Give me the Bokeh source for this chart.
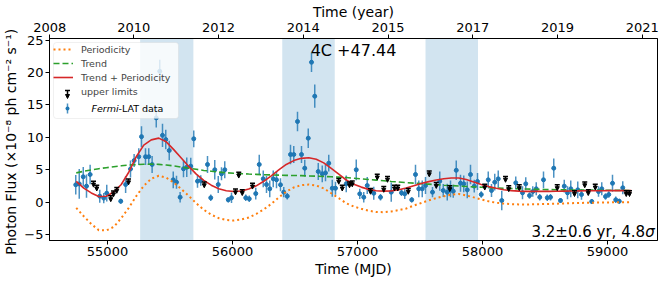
from bokeh.plotting import figure
from bokeh.models import (Range1d, LinearAxis, FixedTicker, BoxAnnotation, Label,
                          Legend, LegendItem, Arrow, TeeHead, NormalHead,
                          ColumnDataSource)
from bokeh.embed import file_html
from bokeh.resources import INLINE

FONT = "DejaVu Sans"

# ---------------- data ----------------
mjd = [54746, 54774, 54806, 54832, 54861, 54938, 54970, 54994, 55106, 55145,
       55184, 55213, 55250, 55272, 55304, 55330, 55357, 55390, 55418, 55440,
       55466, 55494, 55526, 55552, 55581, 55608, 55634, 55666, 55690, 55720,
       55746, 55800, 55826, 55858, 55886, 55912, 55938, 55966, 55992, 56106,
       56134, 56186, 56214, 56246, 56272, 56298, 56326, 56352, 56384, 56410,
       56438, 56464, 56490, 56520, 56552, 56578, 56606, 56632, 56658, 56686,
       56718, 56744, 56770, 56798, 56824, 56910, 56990, 57018, 57050, 57078,
       57130, 57184, 57270, 57352, 57378, 57434, 57464, 57490, 57518, 57544,
       57600, 57658, 57686, 57718, 57744, 57766, 57790, 57824, 57850, 57878,
       57904, 57934, 57960, 57990, 58046, 58072, 58098, 58126, 58154, 58266,
       58320, 58346, 58376, 58402, 58430, 58458, 58488, 58518, 58544, 58570,
       58624, 58654, 58680, 58706, 58762, 58792, 58874, 58928, 58954, 58984,
       59010, 59040, 59066, 59094, 59122]
flux = [2.66, 2.8, 3.9, 2.45, 4.25, 0.9, 0.6, 1.36, 0.12, 2.7,
        5.1, 6.4, 7.0, 10.1, 7.0, 7.0, 5.8, 13.0, 20.2, 10.3,
        9.66, 7.96, 3.43, 3.06, 0.74, 5.13, 5.38, 5.54, 9.77, 3.22,
        3.32, 5.8, 0.65, 4.98, 2.7, 4.36, 4.98, 0.34, 0.65, 0.65,
        0.49, 1.3, 5.8, 3.58, 2.7, 2.04, 3.58, 3.43, 2.66, 1.52,
        0.9, 7.34, 7.34, 12.44, 7.34, 5.23, 9.86, 21.6, 16.35, 4.71,
        4.36, 4.5, 6.0, 2.13, 2.13, 2.81, 4.98, 1.26, 0.74, 2.55,
        1.36, 0.74, 1.52, 1.42, 1.26, 0.34, 4.25, 2.04, 2.04, 2.55,
        1.52, 3.22, 1.78, 1.52, 2.04, 1.67, 4.9, 2.9, 2.81, 1.88,
        4.25, 2.45, 3.17, 1.16, 3.43, 1.78, 3.06, 3.58, 0.23, 2.96,
        1.42, 2.81, 1.0, 1.62, 2.04, 0.74, 3.43, 0.65, 0.74, 5.23,
        0.23, 2.45, 1.42, 2.04, 1.88, 1.16, 0.08, 1.62, 2.04, 0.85,
        1.16, 2.9, 0.34, 0.12, 2.2]
flux_err = [1.5, 2.3, 1.5, 1.8, 1.5, 1.0, 0.8, 1.3, 0.4, 1.3,
            1.3, 1.0, 1.3, 1.6, 1.3, 1.3, 1.3, 1.5, 1.8, 1.8,
            1.5, 1.5, 1.3, 1.0, 0.8, 1.3, 1.5, 1.3, 1.3, 1.0,
            0.8, 1.3, 0.5, 1.5, 1.3, 1.0, 1.3, 0.4, 0.8, 0.5,
            0.5, 0.9, 1.5, 1.3, 1.3, 1.3, 1.3, 1.3, 1.0, 0.8,
            0.5, 1.5, 1.3, 1.5, 1.3, 1.3, 1.5, 1.5, 1.8, 1.3,
            1.3, 1.3, 1.3, 1.3, 1.0, 1.3, 1.6, 0.8, 0.8, 1.3,
            1.0, 0.5, 1.5, 0.5, 0.8, 0.4, 1.5, 1.3, 1.3, 1.3,
            0.8, 1.5, 1.0, 1.3, 1.3, 1.0, 1.5, 1.3, 1.3, 1.3,
            1.5, 1.0, 1.3, 0.5, 1.3, 1.0, 1.3, 1.3, 1.5, 1.0,
            1.0, 1.0, 0.5, 0.8, 1.0, 0.5, 1.3, 0.5, 0.5, 1.5,
            0.4, 1.0, 1.0, 1.3, 1.3, 0.8, 0.4, 0.8, 1.0, 0.5,
            0.5, 1.3, 0.5, 0.4, 1.0]

ul_mjd = [54888, 54914, 55026, 55048, 55074, 55168, 55774, 56024, 56050, 56078,
          56160, 56850, 56878, 56936, 56958, 57104, 57158, 57210, 57240, 57296,
          57322, 57406, 57574, 57630, 57738, 58018, 58184, 58210, 58294, 58598,
          58736, 58818, 58846, 58902, 59150, 59176]
ul_flux = [3.2, 2.6, 0.95, 1.7, 2.25, 3.55, 3.1, 2.0, 4.6, 1.9,
           2.9, 3.65, 2.6, 3.1, 3.25, 2.1, 4.3, 2.4, 3.95, 2.6,
           2.6, 2.1, 4.8, 3.0, 2.5, 2.75, 3.95, 2.5, 2.65, 2.65,
           1.75, 3.1, 1.9, 2.75, 1.75, 1.75]
ul_len = 0.9

curve_mjd = [54750, 54810, 54870, 54930, 54990, 55050, 55110, 55170, 55230, 55290,
             55350, 55410, 55470, 55530, 55590, 55650, 55710, 55770, 55830, 55890,
             55950, 56010, 56070, 56130, 56190, 56250, 56310, 56370, 56430, 56490,
             56550, 56610, 56670, 56730, 56790, 56850, 56910, 56970, 57030, 57090,
             57150, 57210, 57270, 57330, 57390, 57450, 57510, 57570, 57630, 57690,
             57750, 57810, 57870, 57930, 57990, 58050, 58110, 58170, 58230, 58290,
             58350, 58410, 58470, 58530, 58590, 58650, 58710, 58770, 58830, 58890,
             58950, 59010, 59070, 59130, 59190]
trend = [4.5, 4.75, 4.95, 5.15, 5.3, 5.45, 5.6, 5.7, 5.78, 5.83,
         5.85, 5.82, 5.72, 5.58, 5.4, 5.22, 5.05, 4.88, 4.75, 4.62,
         4.52, 4.45, 4.38, 4.32, 4.27, 4.22, 4.18, 4.15, 4.12, 4.1,
         4.07, 4.03, 3.99, 3.95, 3.9, 3.85, 3.78, 3.68, 3.58, 3.48,
         3.38, 3.28, 3.18, 3.1, 3.0, 2.92, 2.84, 2.76, 2.68, 2.6,
         2.54, 2.47, 2.4, 2.34, 2.28, 2.22, 2.17, 2.12, 2.08, 2.04,
         2.0, 1.97, 1.94, 1.92, 1.9, 1.88, 1.86, 1.85, 1.84, 1.83,
         1.82, 1.81, 1.8, 1.79, 1.78]
periodicity = [-0.9, -2.2, -3.4, -4.35, -4.4, -3.85, -2.5, -0.9, 0.9, 2.5,
               3.6, 4.05, 3.75, 3.0, 2.0, 0.95, -0.2, -1.2, -1.95, -2.5,
               -2.78, -2.86, -2.7, -2.4, -1.85, -1.15, -0.3, 0.7, 1.6, 2.25,
               2.6, 2.7, 2.55, 2.1, 1.35, 0.6, -0.2, -0.7, -1.05, -1.35,
               -1.55, -1.57, -1.47, -1.25, -1.0, -0.55, -0.15, 0.25, 0.6, 0.88,
               1.15, 1.25, 1.02, 0.72, 0.4, 0.1, -0.12, -0.25, -0.33, -0.37,
               -0.38, -0.36, -0.33, -0.3, -0.26, -0.22, -0.18, -0.15, -0.12, -0.1,
               -0.08, -0.06, -0.05, -0.04, -0.03]
trend_plus = [3.2, 2.15, 1.4, 0.85, 0.9, 1.55, 2.7, 4.6, 7.0, 8.8,
              9.6, 9.87, 9.3, 8.1, 6.8, 5.5, 4.3, 3.35, 2.6, 2.05,
              1.75, 1.62, 1.7, 2.0, 2.5, 3.2, 4.05, 4.95, 5.8, 6.4,
              6.75, 6.85, 6.6, 6.05, 5.2, 4.3, 3.4, 2.75, 2.3, 1.95,
              1.75, 1.68, 1.72, 1.9, 2.15, 2.5, 2.85, 3.15, 3.4, 3.6,
              3.72, 3.72, 3.48, 3.1, 2.72, 2.38, 2.12, 1.9, 1.76, 1.68,
              1.65, 1.64, 1.64, 1.65, 1.66, 1.68, 1.7, 1.72, 1.73, 1.74,
              1.75, 1.76, 1.76, 1.76, 1.76]

high_start = [55261, 56398, 57544]
high_end = [55687, 56818, 57964]

x_ticks = [55000, 56000, 57000, 58000, 59000]
y_ticks = [-5, 0, 5, 10, 15, 20, 25]
year_ticks = [54538, 55210, 55888, 56566, 57244, 57922, 58600, 59278]
year_labels = ["2008", "2010", "2012", "2014", "2015", "2017", "2019", "2021"]

# ---------------- style ----------------
C_BLUE = "#1f77b4"
C_ORANGE = "#ff7f0e"
C_GREEN = "#2ca02c"
C_RED = "#d62728"

X0, X1 = 54536, 59400
Y0, Y1 = -5.95, 25.27
FW, FH = 608, 202

p = figure(frame_width=FW, frame_height=FH,
           x_range=Range1d(X0, X1), y_range=Range1d(Y0, Y1),
           output_backend="svg", toolbar_location=None,
           title="Time (year)", title_location="above",
           min_border_left=45, min_border_right=7, min_border_top=38,
           min_border_bottom=42)
p.xgrid.visible = False
p.ygrid.visible = False
p.outline_line_color = "black"
p.outline_line_width = 1
p.background_fill_color = "white"
p.border_fill_color = "white"
p.title.align = "center"
p.title.text_font = FONT
p.title.text_font_size = "14px"
p.title.text_font_style = "normal"
p.title.text_color = "black"
p.title.standoff = 0


def style_axis(ax, tick_size="13px"):
    ax.major_tick_out = 4
    ax.major_tick_in = 0
    ax.minor_tick_out = 0
    ax.minor_tick_in = 0
    ax.axis_line_color = "black"
    ax.major_tick_line_color = "black"
    ax.major_label_text_font = FONT
    ax.major_label_text_font_size = tick_size
    ax.major_label_text_color = "black"
    ax.axis_label_text_font = FONT
    ax.axis_label_text_font_size = "14px"
    ax.axis_label_text_font_style = "normal"
    ax.axis_label_text_color = "black"
    ax.major_label_standoff = 2


xa = p.xaxis[0]
xa.ticker = FixedTicker(ticks=x_ticks)
xa.axis_label = "Time (MJD)"
style_axis(xa)
xa.axis_label_standoff = 2

ya = p.yaxis[0]
ya.ticker = FixedTicker(ticks=y_ticks)
ya.major_label_overrides = {t: (("\u2212" + str(-t)) if t < 0 else str(t)) for t in y_ticks}
ya.axis_label = "Photon Flux  (\u00d710\u207b\u2078 ph cm\u207b\u00b2 s\u207b\u00b9)"
style_axis(ya)
ya.axis_label_standoff = 2

top = LinearAxis(ticker=FixedTicker(ticks=year_ticks),
                 major_label_overrides={t: l for t, l in zip(year_ticks, year_labels)})
style_axis(top)
top.major_label_standoff = 3
p.add_layout(top, "above")

dx = (X1 - X0) / FW
dy = (Y1 - Y0) / FH

# high-state shaded spans
for s, e in zip(high_start, high_end):
    p.add_layout(BoxAnnotation(left=s, right=e, fill_color=C_BLUE, fill_alpha=0.2,
                               line_color=None, level="underlay"))

# Fermi-LAT data with error bars
lo = [f - e for f, e in zip(flux, flux_err)]
hi = [f + e for f, e in zip(flux, flux_err)]
p.segment(x0=mjd, y0=lo, x1=mjd, y1=hi, line_color=C_BLUE, line_width=1.5, line_alpha=0.8)
r_data = p.scatter(x=mjd, y=flux, size=4, marker="circle", fill_color=C_BLUE,
                   line_color=C_BLUE)

# curves
r_per = p.line(curve_mjd, periodicity, line_color=C_ORANGE, line_width=2, line_dash="2 3")
r_trend = p.line(curve_mjd, trend, line_color=C_GREEN, line_width=1.6, line_dash="6 3")
r_tp = p.line(curve_mjd, trend_plus, line_color=C_RED, line_width=1.6)

# upper limits: cap on top, arrow pointing down
ul_low = [f - ul_len for f in ul_flux]
ul_src = ColumnDataSource(dict(x=ul_mjd, y=ul_flux, y_low=ul_low))
p.add_layout(Arrow(source=ul_src, x_start="x", y_start="y", x_end="x", y_end="y_low",
                   line_color="black", line_width=1.5,
                   start=TeeHead(size=5, line_color="black", line_width=1.5),
                   end=NormalHead(size=4, fill_color="black", line_color="black",
                                  line_width=1)))

# invisible holders for the legend rows whose keys are drawn separately
r_hold_ul = p.scatter(x=[X0 - 1000], y=[Y0 - 100], size=1, fill_alpha=0, line_alpha=0)
r_hold_fd = p.scatter(x=[X0 - 1000], y=[Y0 - 100], size=1, fill_alpha=0, line_alpha=0)

LEG_MARGIN, LEG_PAD, ITEM_H, GLYPH_W, LEG_W, LEG_STANDOFF = 4, 3, 14, 20, 125, 8
LEG_FONT = "9.5px"

# legend frame (semi-opaque white box with light grey border)
p.add_layout(BoxAnnotation(left=X0 + LEG_MARGIN * dx, right=X0 + (LEG_MARGIN + LEG_W) * dx,
                           top=Y1 - LEG_MARGIN * dy,
                           bottom=Y1 - (LEG_MARGIN + 2 * LEG_PAD + 5 * ITEM_H) * dy,
                           fill_color="white", fill_alpha=0.8, line_color="#cccccc",
                           line_width=1, border_radius=3))

legend = Legend(items=[
    LegendItem(label="Periodicity", renderers=[r_per]),
    LegendItem(label="Trend", renderers=[r_trend]),
    LegendItem(label="Trend + Periodicity", renderers=[r_tp]),
    LegendItem(label="upper limits", renderers=[r_hold_ul]),
    LegendItem(label=" ", renderers=[r_hold_fd]),
], location="top_left", margin=LEG_MARGIN, padding=LEG_PAD, spacing=0,
    glyph_width=GLYPH_W, glyph_height=ITEM_H, label_height=ITEM_H,
    label_standoff=LEG_STANDOFF,
    label_text_font=FONT, label_text_font_size=LEG_FONT,
    border_line_color=None, background_fill_alpha=0)
p.add_layout(legend)

# legend keys / label for the two marker rows (placed from the legend layout)
key_x = X0 + (LEG_MARGIN + LEG_PAD + GLYPH_W / 2 + 1) * dx
row_ul = Y1 - (LEG_MARGIN + LEG_PAD + ITEM_H * 3 + ITEM_H / 2) * dy
row_fd = Y1 - (LEG_MARGIN + LEG_PAD + ITEM_H * 4 + ITEM_H / 2) * dy
p.add_layout(Arrow(x_start=key_x, y_start=row_ul + 4 * dy, x_end=key_x, y_end=row_ul - 4 * dy,
                   line_color="black", line_width=1.5,
                   start=TeeHead(size=5, line_color="black", line_width=1.5),
                   end=NormalHead(size=4, fill_color="black", line_color="black",
                                  line_width=1)))
p.add_layout(Arrow(x_start=key_x, y_start=row_fd + 5 * dy, x_end=key_x, y_end=row_fd - 5 * dy,
                   line_color=C_BLUE, line_width=1.5, line_alpha=0.8, start=None, end=None))
p.add_layout(BoxAnnotation(left=key_x - 2 * dx, right=key_x + 2 * dx,
                           bottom=row_fd - 2 * dy, top=row_fd + 2 * dy,
                           fill_color=C_BLUE, fill_alpha=1, line_color=None,
                           border_radius=2))
label_x = X0 + (LEG_MARGIN + LEG_PAD + GLYPH_W + LEG_STANDOFF + 7) * dx
p.add_layout(Label(x=label_x, y=row_fd, text="Fermi", text_align="left",
                   text_baseline="middle", text_font=FONT, text_font_size=LEG_FONT,
                   text_font_style="italic", text_color="black"))
p.add_layout(Label(x=label_x + 27 * dx, y=row_fd, text="-LAT data", text_align="left",
                   text_baseline="middle", text_font=FONT, text_font_size=LEG_FONT,
                   text_color="black"))

# annotations
p.add_layout(Label(x=(X0 + X1) / 2, y=24.9, text="4C +47.44", text_align="center",
                   text_baseline="top", text_font=FONT, text_font_size="16px",
                   text_color="black"))
p.add_layout(Label(x=59300, y=-4.6, text="3.2\u00b10.6 yr, 4.8", text_align="right",
                   text_baseline="alphabetic", text_font=FONT, text_font_size="15px",
                   text_color="black"))
p.add_layout(Label(x=59302, y=-4.6, text="\u03c3", text_align="left",
                   text_baseline="alphabetic", text_font=FONT, text_font_size="15px",
                   text_font_style="italic", text_color="black"))

open("out.html", "w").write(file_html(p, INLINE))
